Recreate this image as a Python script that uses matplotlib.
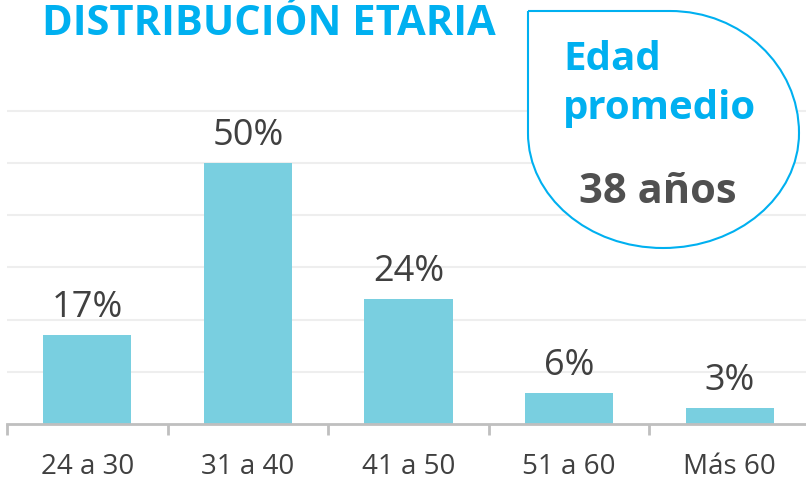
import matplotlib
matplotlib.use("Agg")
import matplotlib.pyplot as plt
from matplotlib.path import Path
from matplotlib.patches import PathPatch
import numpy as np

categories = ["24 a 30", "31 a 40", "41 a 50", "51 a 60", "Más 60"]
values = [17, 50, 24, 6, 3]
value_labels = ["17%", "50%", "24%", "6%", "3%"]
title = "DISTRIBUCIÓN ETARIA"
box_value = "38 años"

W, H = 806, 483
fig = plt.figure(figsize=(W / 100, H / 100), dpi=100)
FONT = "Open Sans"

def fx(px):
    return px / W

def fy(py):
    return 1 - py / H

ax = fig.add_axes([fx(7), fy(424), (810 - 7) / W, (424 - 58.6) / H])
x = np.arange(len(categories))
ax.bar(x, values, width=0.55, color="#79cfe0", zorder=2)
ax.set_xlim(-0.5, len(categories) - 0.5)
ax.set_ylim(0, 70)
ax.set_yticks(np.arange(10, 70, 10))
ax.yaxis.grid(True, color="#eeeeee", linewidth=1.5, zorder=0)
ax.tick_params(axis="y", left=False, labelleft=False)
for s in ["left", "right", "top"]:
    ax.spines[s].set_visible(False)
ax.spines["bottom"].set_color("#bfbfbf")
ax.spines["bottom"].set_linewidth(2)
ax.spines["bottom"].set_zorder(3)
ax.set_xticks(x)
ax.set_xticklabels(categories, fontsize=20, color="#404040", family=FONT)
ax.set_xticks(np.arange(-0.5, len(categories), 1.0), minor=True)
ax.tick_params(axis="x", which="major", length=0, pad=21)
ax.tick_params(axis="x", which="minor", length=8, width=2, color="#bfbfbf")

for xi, v, lab in zip(x, values, value_labels):
    ax.annotate(lab, (xi, v), xytext=(0, 13), textcoords="offset points",
                ha="center", va="baseline", fontsize=26, color="#404040", family=FONT)

fig.text(fx(42), fy(35), title, fontsize=30, fontweight="bold", color="#00b0f0",
         family=FONT, ha="left", va="baseline")

# callout shape
k = 0.5523
L, T, R, B = 528, 11, 799, 248
xt, yr, xb, yl = 670, 133, 663, 133
verts = [
    (L, T), (xt, T),
    (xt + k * (R - xt), T), (R, yr - k * (yr - T)), (R, yr),
    (R, yr + k * (B - yr)), (xb + k * (R - xb), B), (xb, B),
    (xb - k * (xb - L), B), (L, yl + k * (B - yl)), (L, yl),
    (L, T),
]
codes = [Path.MOVETO, Path.LINETO,
         Path.CURVE4, Path.CURVE4, Path.CURVE4,
         Path.CURVE4, Path.CURVE4, Path.CURVE4,
         Path.CURVE4, Path.CURVE4, Path.CURVE4,
         Path.LINETO]
verts_f = [(fx(a), fy(b)) for a, b in verts]
patch = PathPatch(Path(verts_f, codes), transform=fig.transFigure,
                  facecolor="white", edgecolor="#00b0f0", linewidth=1.5, zorder=5)
fig.patches.append(patch)

fig.text(fx(563), fy(70), "Edad", fontsize=29, fontweight="bold", color="#00b0f0",
         family=FONT, ha="left", va="baseline", zorder=6)
fig.text(fx(563), fy(119), "promedio", fontsize=29, fontweight="bold", color="#00b0f0",
         family=FONT, ha="left", va="baseline", zorder=6)
fig.text(fx(658), fy(203), box_value, fontsize=30, fontweight="bold", color="#505050",
         family=FONT, ha="center", va="baseline", zorder=6)

fig.savefig("out.png", dpi=100)
